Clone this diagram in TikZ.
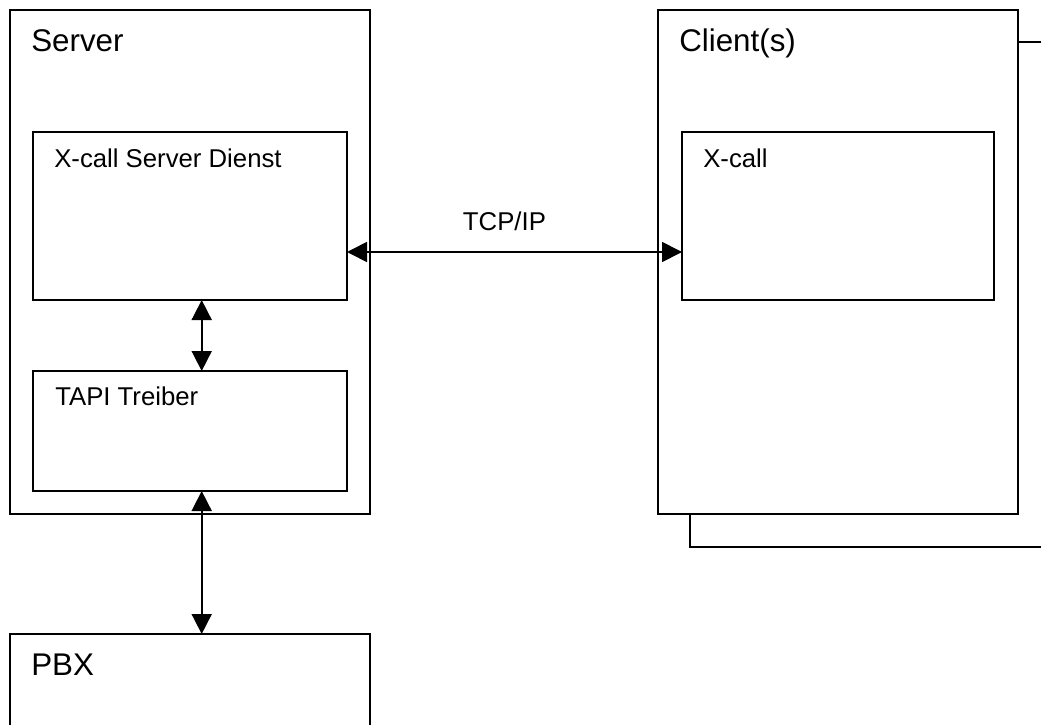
\documentclass[tikz,border=0pt]{standalone}
\usepackage{fontspec}
\setmainfont{Liberation Sans}
\usetikzlibrary{arrows.meta}
\begin{document}
\begin{tikzpicture}[x=0.75pt,y=-0.75pt,
  box/.style={draw=black, fill=white, line width=1.3pt, rectangle, anchor=north west, inner sep=0pt, outer sep=0pt},
  bigtxt/.style={anchor=base west, inner sep=0pt, font=\fontsize{23.5}{27}\selectfont},
  smalltxt/.style={anchor=base west, inner sep=0pt, font=\fontsize{19.3}{23}\selectfont},
  conn/.style={line width=1.3pt, {Triangle[length=15pt,width=15pt]}-{Triangle[length=15pt,width=15pt]}}]
\useasboundingbox (0,0) rectangle (1041,724);
\clip (0,0) rectangle (1041,724);
\fill[white] (0,0) rectangle (1041,724);
% server
\node[box, minimum width=270pt, minimum height=378pt] (server) at (10,10) {};
\node[box, minimum width=235.5pt, minimum height=126pt] (xsd) at (33,132) {};
\node[box, minimum width=235.5pt, minimum height=90pt] (tapi) at (33,371) {};
% clients
\node[box, minimum width=277.5pt, minimum height=378.75pt] (shadow) at (690,42) {};
\node[box, minimum width=270pt, minimum height=378pt] (client) at (658,10) {};
\node[box, minimum width=234pt, minimum height=126pt] (xc) at (682,132) {};
% pbx
\node[box, minimum width=270pt, minimum height=124.5pt] (pbx) at (10,634) {};
% texts
\node[bigtxt] (tserver) at (31,52) {Server};
\node[bigtxt] (tclient) at (679,52) {Client(s)};
\node[bigtxt] (tpbx) at (31,675) {PBX};
\node[smalltxt] (txsd) at (54,167) {X-call Server Dienst};
\node[smalltxt] (txc) at (703,167) {X-call};
\node[smalltxt] (ttapi) at (55,405) {TAPI Treiber};
% connectors
\coordinate (a1) at (201.7,300);
\draw[conn] (xsd.south -| a1) -- (tapi.north -| a1);
\draw[conn] (tapi.south -| a1) -- (pbx.north -| a1);
\coordinate (h) at (0,252);
\draw[conn] (xsd.east |- h) -- node[pos=0.47, anchor=base, yshift=16.5pt, inner sep=0pt, font=\fontsize{19.3}{23}\selectfont] (ttcp) {TCP/IP} (xc.west |- h);
\end{tikzpicture}
\end{document}
